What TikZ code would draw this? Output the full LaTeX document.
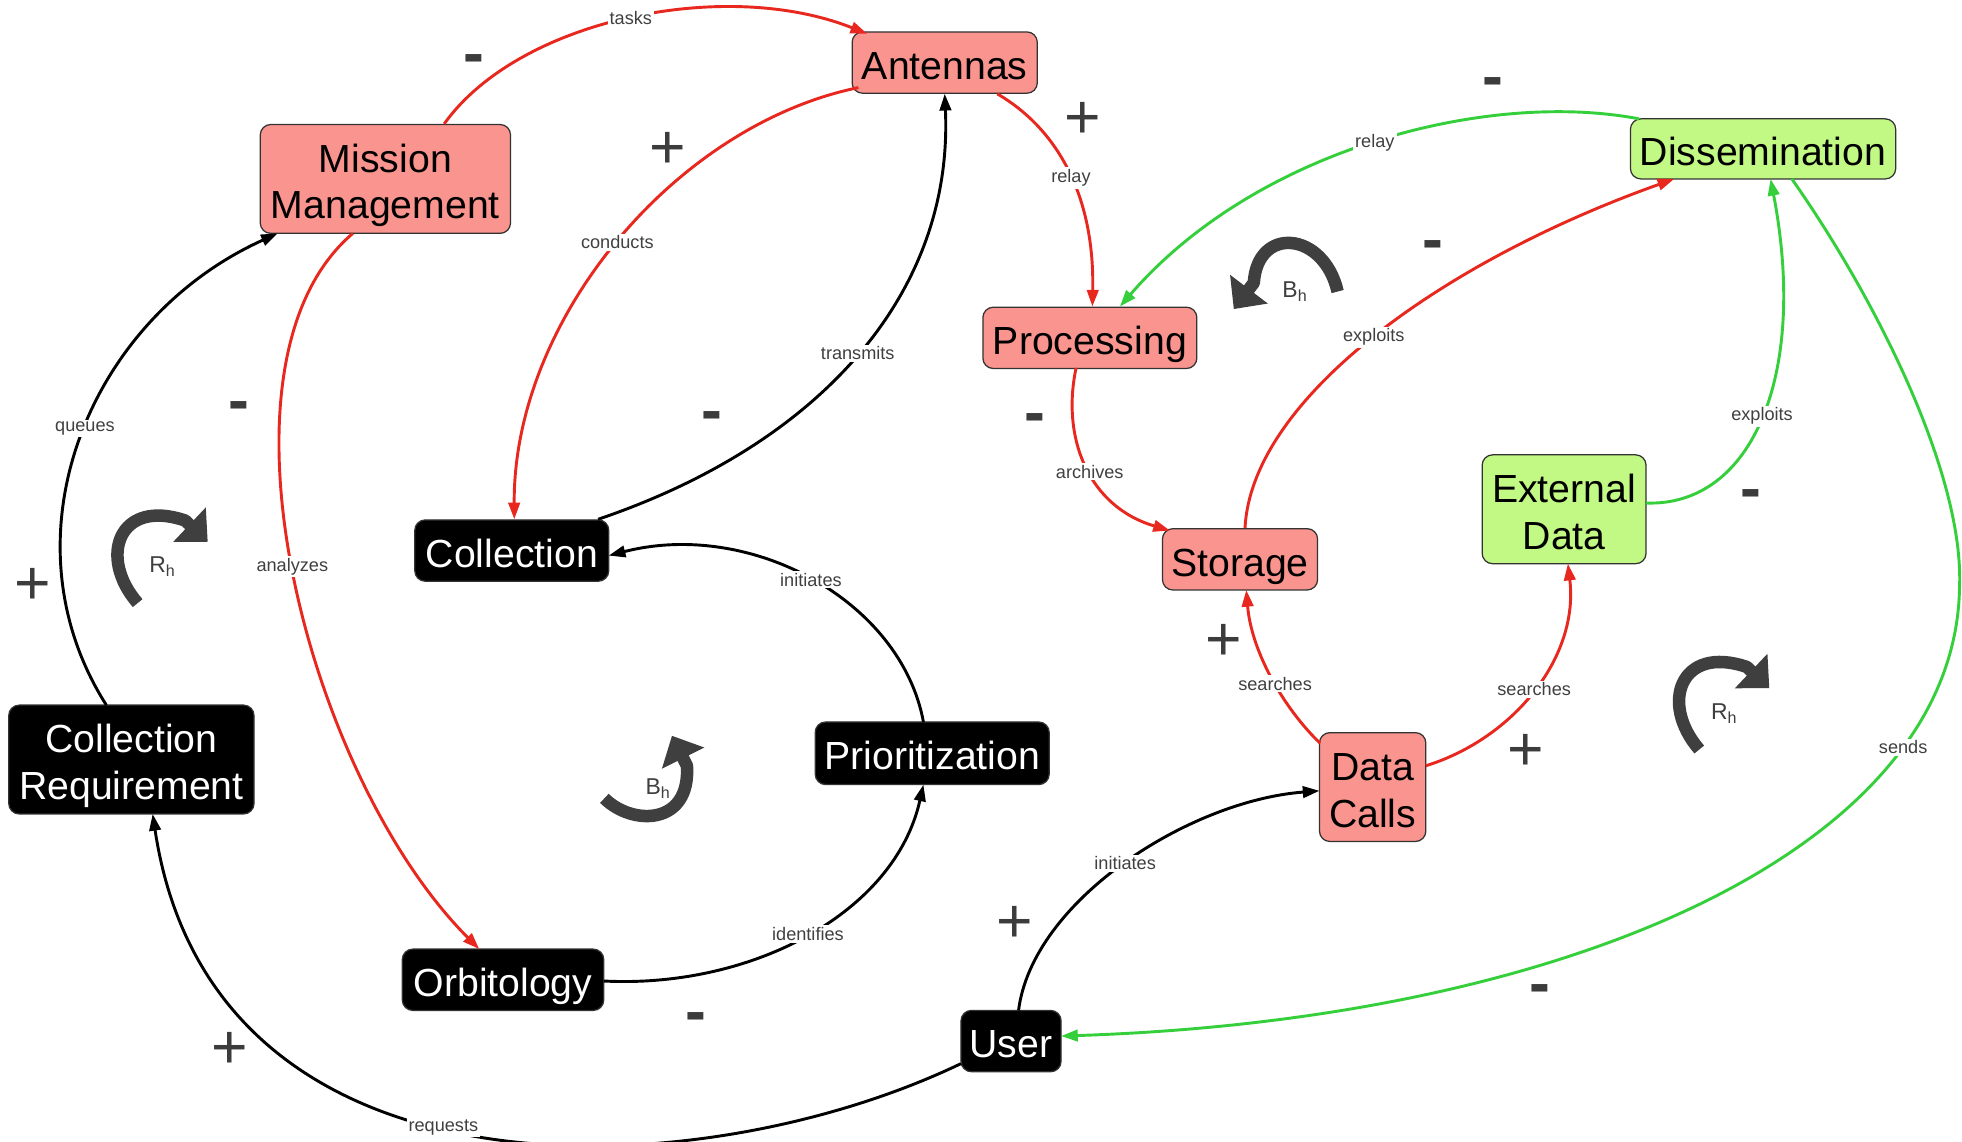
\documentclass[tikz,border=0pt]{standalone}
\usepackage{fontspec}
\setmainfont{Liberation Sans}
\usetikzlibrary{arrows.meta,calc}
\definecolor{redE}{HTML}{E8281E}
\definecolor{greenE}{HTML}{36CF3C}
\definecolor{salmon}{HTML}{FA948E}
\definecolor{lime}{HTML}{C2F884}
\definecolor{signc}{HTML}{3C3C3C}
\definecolor{loopc}{HTML}{3F3F3F}
\definecolor{lblc}{HTML}{404040}
\newcommand{\nodefont}{\fontsize{18.8}{22.4}\selectfont}
\newcommand{\lblfont}{\fontsize{8.7}{10}\selectfont}
\newcommand{\signfont}{\fontsize{30}{30}\selectfont}
\newcommand{\loopfont}{\fontsize{11}{11}\selectfont}
\begin{document}
\begin{tikzpicture}[x=0.6pt,y=0.6pt,
  nbox/.style={rounded corners=5pt, draw=black!80, line width=0.6pt, align=center, font=\nodefont, inner sep=0pt, text height=16pt, text depth=0pt},
  two/.style={text height=38.3pt, text depth=0pt},
  rbox/.style={nbox, fill=salmon, text=black},
  gbox/.style={nbox, fill=lime, text=black},
  kbox/.style={nbox, fill=black, text=white},
  lnk/.style={line width=1.4pt, -{Triangle[length=8pt,width=5.5pt]}},
  rlnk/.style={lnk, draw=redE},
  glnk/.style={lnk, draw=greenE},
  klnk/.style={lnk, draw=black},
  lbl/.style={font=\lblfont, text=lblc, fill=white, inner sep=1pt},
  sgnp/.style={font=\signfont, text=signc, inner sep=0pt, text height=0.7em, text depth=0pt, yshift=-7.2pt},
  sgnm/.style={font=\signfont\bfseries, text=signc, inner sep=0pt, text height=0.7em, text depth=0pt, yshift=-5.4pt},
  loopar/.style={line width=6pt, draw=loopc, line join=round, -{Triangle[length=12pt,width=22pt]}},
  looplbl/.style={font=\loopfont, text=loopc, inner sep=0pt},
]
\fill[white] (0,0) rectangle (1568,-912);
\useasboundingbox (0,0) rectangle (1568,-912);
\clip (0,0) rectangle (1568,-912);

% nodes
\node[rbox, two, minimum width=120pt, minimum height=52.2pt] (mm) at (308,-143) {Mission\\Management};
\node[rbox, minimum width=88.8pt, minimum height=29.4pt] (ant) at (755,-50) {Antennas};
\node[rbox, minimum width=102.6pt, minimum height=29.4pt] (proc) at (871,-270) {Processing};
\node[gbox, minimum width=127.2pt, minimum height=28.8pt] (dis) at (1409,-119) {Dissemination};
\node[kbox, minimum width=93pt, minimum height=29.4pt] (col) at (409,-440) {Collection};
\node[kbox, two, minimum width=117.6pt, minimum height=52.2pt] (creq) at (105,-607) {Collection\\Requirement};
\node[rbox, minimum width=74.4pt, minimum height=29.4pt] (sto) at (991,-447) {Storage};
\node[gbox, two, minimum width=78.6pt, minimum height=52.2pt] (ext) at (1250,-407) {External\\Data};
\node[kbox, minimum width=112.2pt, minimum height=30pt] (prio) at (745,-602) {Prioritization};
\node[rbox, two, minimum width=51pt, minimum height=52.2pt] (dc) at (1097,-629) {Data\\Calls};
\node[kbox, minimum width=96.6pt, minimum height=29.4pt] (orb) at (402,-783) {Orbitology};
\node[kbox, minimum width=48pt, minimum height=29.4pt] (user) at (808,-832) {User};

% connectors
\draw[rlnk] ($(mm)+(47,44)$) .. controls (415,-15) and (580,18) .. node[lbl,pos=0.5] (l1) {tasks} ($(ant)+(-62,23)$);
\draw[rlnk] ($(ant)+(-69,-20)$) .. controls (540,-100) and (410,-255) .. node[lbl,pos=0.5] (l2) {conducts} ($(col)+(2,25)$);
\draw[klnk] ($(col)+(69,25)$) .. controls (655,-355) and (762,-235) .. node[lbl,pos=0.5] (l3) {transmits} ($(ant)+(0,-25)$);
\draw[rlnk] ($(ant)+(42,-25)$) .. controls (840,-100) and (875,-150) .. node[lbl,pos=0.55] (l4) {relay} ($(proc)+(2,25)$);
\draw[glnk] ($(dis)+(-99,24)$) .. controls (1190,-72) and (1005,-118) .. node[lbl,pos=0.5] (l5) {relay} ($(proc)+(24,25)$);
\draw[rlnk] ($(proc)+(-11,-24)$) .. controls (848,-350) and (870,-405) .. node[lbl,pos=0.53] (l6) {archives} ($(sto)+(-56,23)$);
\draw[rlnk] ($(sto)+(4,25)$) .. controls (1000,-320) and (1150,-210) .. node[lbl,pos=0.5] (l7) {exploits} ($(dis)+(-71,-24)$);
\draw[glnk] ($(ext)+(65.5,5)$) .. controls (1400,-405) and (1445,-300) .. node[lbl,pos=0.5] (l8) {exploits} ($(dis)+(6,-24)$);
\draw[glnk] ($(dis)+(23,-24)$) .. controls (1500,-240) and (1570,-380) .. (1566,-470) .. controls (1562,-680) and (1250,-815) .. node[lbl,pos=0.22] (l9) {sends} ($(user)+(40,4)$);
\draw[rlnk] ($(dc)+(-42,35)$) .. controls (1025,-565) and (1000,-520) .. node[lbl,pos=0.45] (l10) {searches} ($(sto)+(5,-24.5)$);
\draw[rlnk] ($(dc)+(42.5,17)$) .. controls (1210,-590) and (1262,-525) .. node[lbl,pos=0.5] (l11) {searches} ($(ext)+(3,-43.5)$);
\draw[klnk] ($(user)+(6,24.5)$) .. controls (825,-720) and (950,-640) .. node[lbl,pos=0.5] (l12) {initiates} ($(dc)+(-42.5,-3)$);
\draw[klnk] ($(user)+(-40,-18)$) .. controls (560,-950) and (170,-970) .. node[lbl,pos=0.54] (l13) {requests} ($(creq)+(17,-43.5)$);
\draw[klnk] ($(creq)+(-20,43.5)$) .. controls (0,-430) and (70,-255) .. node[lbl,pos=0.52] (l14) {queues} ($(mm)+(-86,-43.5)$);
\draw[rlnk] ($(mm)+(-26,-43.5)$) .. controls (160,-290) and (245,-620) .. node[lbl,pos=0.49] (l15) {analyzes} ($(orb)+(-19,24.5)$);
\draw[klnk] ($(orb)+(80.5,-1)$) .. controls (600,-790) and (715,-730) .. node[lbl,pos=0.5] (l16) {identifies} ($(prio)+(-7,-25)$);
\draw[klnk] ($(prio)+(-7,25)$) .. controls (720,-480) and (600,-415) .. node[lbl,pos=0.5] (l17) {initiates} ($(col)+(77.5,-4)$);

% polarity signs
\node[sgnm] (s1) at (379,-45) {-};
\node[sgnp] (s2) at (534,-117) {+};
\node[sgnm] (s3) at (569,-330) {-};
\node[sgnp] (s4) at (865,-93) {+};
\node[sgnm] (s5) at (1193,-63) {-};
\node[sgnm] (s6) at (827,-332) {-};
\node[sgnm] (s7) at (1145,-193) {-};
\node[sgnm] (s8) at (1399,-392) {-};
\node[sgnm] (s9) at (1231,-788) {-};
\node[sgnp] (s10) at (978,-510) {+};
\node[sgnp] (s11) at (1219,-598) {+};
\node[sgnp] (s12) at (811,-735) {+};
\node[sgnp] (s13) at (184,-836) {+};
\node[sgnp] (s14) at (26,-465) {+};
\node[sgnm] (s15) at (191,-322) {-};
\node[sgnm] (s16) at (556,-810) {-};

% loop markers
\draw[loopar] (110,-482) .. controls (78,-445) and (95,-398) .. (148,-416) -- (166,-433);
\node[looplbl] (lp1) at (130,-453) {R\textsubscript{h}};
\draw[loopar] (1069,-233) .. controls (1058,-185) and (1005,-180) .. (1002,-226) -- (986,-247);
\node[looplbl] (lp2) at (1035,-233) {B\textsubscript{h}};
\draw[loopar] (483,-638) .. controls (505,-660) and (552,-660) .. (549,-612) -- (537,-588);
\node[looplbl] (lp3) at (526,-630) {B\textsubscript{h}};
\begin{scope}[shift={(1248,-117)}]
\draw[loopar] (110,-482) .. controls (78,-445) and (95,-398) .. (148,-416) -- (166,-433);
\end{scope}
\node[looplbl] (lp4) at (1378,-570) {R\textsubscript{h}};
\end{tikzpicture}
\end{document}
